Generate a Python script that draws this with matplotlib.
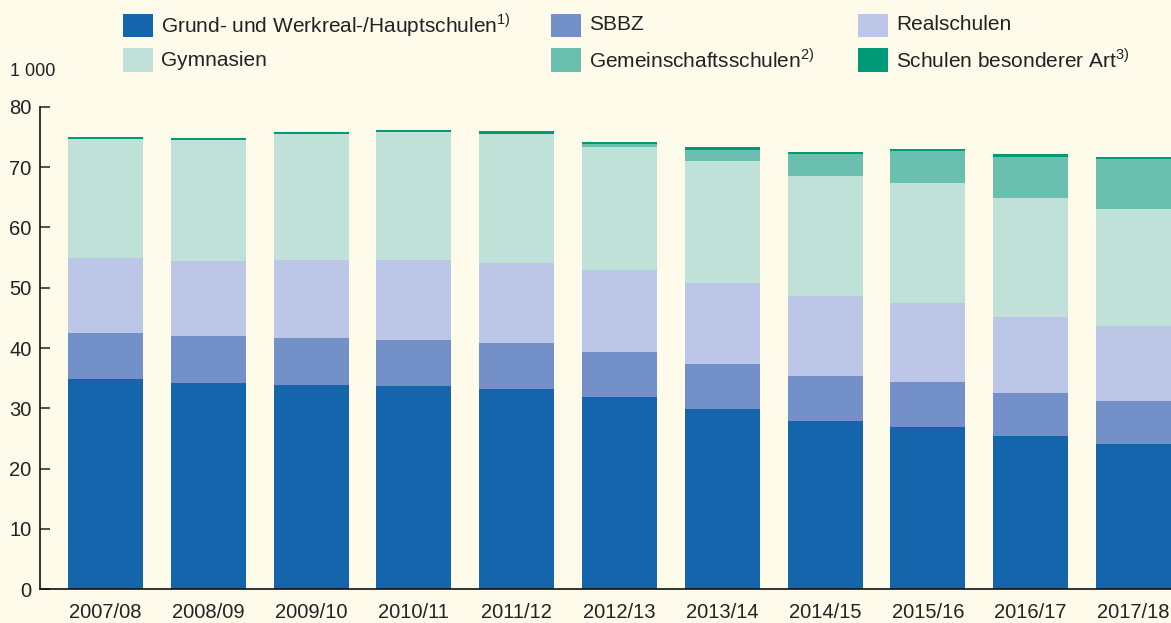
import matplotlib.pyplot as plt
from matplotlib.patches import Rectangle

plt.rcParams["font.family"] = ["Liberation Sans", "DejaVu Sans"]
plt.rcParams["mathtext.fontset"] = "custom"
plt.rcParams["mathtext.rm"] = "Liberation Sans"

years = ["2007/08", "2008/09", "2009/10", "2010/11", "2011/12", "2012/13",
         "2013/14", "2014/15", "2015/16", "2016/17", "2017/18"]

# Tausend Schüler, von unten nach oben gestapelt
grund = [34.85, 34.2, 33.85, 33.7, 33.2, 31.9, 29.9, 27.9, 26.9, 25.4, 24.1]
sbbz = [7.65, 7.8, 7.8, 7.6, 7.6, 7.4, 7.4, 7.45, 7.45, 7.15, 7.1]
real = [12.4, 12.4, 12.95, 13.3, 13.3, 13.6, 13.5, 13.25, 13.1, 12.6, 12.45]
gym = [19.7, 20.15, 20.9, 21.2, 21.4, 20.4, 20.2, 19.9, 19.9, 19.75, 19.4]
gms = [0, 0, 0, 0, 0, 0.5, 1.8, 3.65, 5.3, 6.75, 8.25]
sba = [0.3, 0.3, 0.3, 0.35, 0.5, 0.35, 0.5, 0.35, 0.35, 0.5, 0.35]

series = [
    (r"Grund- und Werkreal-/Hauptschulen$^{\mathrm{1)}}$", grund, "#1565ad"),
    ("SBBZ", sbbz, "#7490c9"),
    ("Realschulen", real, "#bcc6e6"),
    ("Gymnasien", gym, "#c0e1d8"),
    (r"Gemeinschaftsschulen$^{\mathrm{2)}}$", gms, "#6bbfae"),
    (r"Schulen besonderer Art$^{\mathrm{3)}}$", sba, "#009a78"),
]

bg = "#fefbea"
txt = "#222222"

fig = plt.figure(figsize=(11.71, 6.23), dpi=100, facecolor=bg)
ax = fig.add_axes([40 / 1171, 33.7 / 623, 1131 / 1171, 482.6 / 623])
ax.set_facecolor(bg)

x = list(range(len(years)))
bottom = [0.0] * len(years)
for label, vals, color in series:
    ax.bar(x, vals, width=0.73, bottom=bottom, color=color, linewidth=0)
    bottom = [b + v for b, v in zip(bottom, vals)]

ax.set_xlim(-0.637, 10.365)
ax.set_ylim(0, 80)
ax.set_yticks(range(0, 81, 10))
ax.set_xticks(x)
ax.set_xticklabels(years)
ax.tick_params(axis="y", direction="in", length=7.5, width=1.1, pad=6,
               labelsize=14.5, colors=txt)
ax.tick_params(axis="x", length=0, pad=10, labelsize=14.5, colors=txt)
for s in ["top", "right"]:
    ax.spines[s].set_visible(False)
for s in ["left", "bottom"]:
    ax.spines[s].set_linewidth(1.2)
    ax.spines[s].set_color("#111111")

fig.text(10 / 1171, 1 - 71 / 623, "1 000", fontsize=13, color=txt,
         ha="left", va="center")

# Legende, 3 Spalten x 2 Zeilen
col_sq = [123, 551, 858]
row_y = [25, 60]
for i, (label, vals, color) in enumerate(series):
    cx = col_sq[i % 3]
    cy = row_y[i // 3]
    fig.add_artist(Rectangle((cx / 1171, 1 - (cy + 11.5) / 623), 30 / 1171,
                             23 / 623, transform=fig.transFigure,
                             facecolor=color, edgecolor="none"))
    fig.text((cx + 38) / 1171, 1 - cy / 623, label, fontsize=15,
             color=txt, ha="left", va="center")

fig.savefig("out.png", dpi=100, facecolor=bg)
